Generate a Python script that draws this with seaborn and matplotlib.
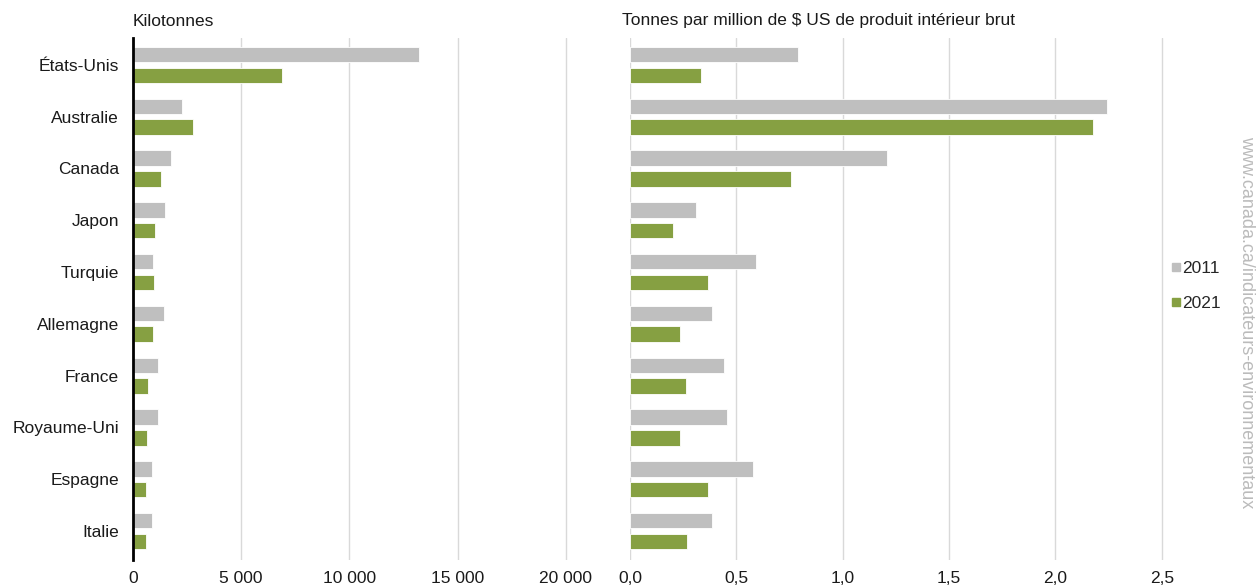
import matplotlib
matplotlib.use("Agg")
import matplotlib.pyplot as plt
import seaborn as sns
import pandas as pd
from matplotlib.ticker import FuncFormatter
from matplotlib.lines import Line2D

pays = ["États-Unis", "Australie", "Canada", "Japon", "Turquie", "Allemagne",
        "France", "Royaume-Uni", "Espagne", "Italie"]
annees = ["2011", "2021"]
kt_2011 = [13200, 2280, 1770, 1500, 940, 1410, 1160, 1160, 900, 880]
kt_2021 = [6900, 2790, 1280, 1030, 980, 940, 710, 660, 580, 580]
int_2011 = [0.79, 2.24, 1.21, 0.31, 0.59, 0.385, 0.44, 0.457, 0.577, 0.385]
int_2021 = [0.334, 2.178, 0.759, 0.202, 0.368, 0.235, 0.261, 0.235, 0.368, 0.269]
xticks_left = [0, 5000, 10000, 15000, 20000]
xticks_right = [0.0, 0.5, 1.0, 1.5, 2.0, 2.5]

GRAY = "#BFBFBF"
GREEN = "#86A042"
FS = 12.5

sns.set_theme(style="white")
plt.rcParams["font.family"] = ["Liberation Sans", "DejaVu Sans"]

df_kt = pd.DataFrame({"pays": pays * 2, "annee": [annees[0]] * 10 + [annees[1]] * 10,
                      "val": kt_2011 + kt_2021})
df_int = pd.DataFrame({"pays": pays * 2, "annee": [annees[0]] * 10 + [annees[1]] * 10,
                       "val": int_2011 + int_2021})

fig = plt.figure(figsize=(12.58, 5.86), dpi=100)
ax1 = fig.add_axes([133 / 1258, 26 / 586, (609 - 133) / 1258, 522 / 586])
ax2 = fig.add_axes([630 / 1258, 26 / 586, (1215 - 630) / 1258, 522 / 586])

palette = {annees[0]: GRAY, annees[1]: GREEN}
for ax, df in ((ax1, df_kt), (ax2, df_int)):
    sns.barplot(data=df, x="val", y="pays", hue="annee", order=pays, hue_order=annees,
                palette=palette, orient="h", width=0.8, gap=0.25, ax=ax,
                legend=False, saturation=1, edgecolor="white", linewidth=0.6, zorder=3)
    ax.set_ylim(len(pays) - 0.44, -0.52)
    ax.set_xlabel("")
    ax.set_ylabel("")
    for s in ax.spines.values():
        s.set_visible(False)
    ax.grid(axis="x", color="#D9D9D9", linewidth=1, zorder=0)
    ax.grid(axis="y", visible=False)
    ax.tick_params(axis="both", length=0, labelsize=FS, colors="#1a1a1a")

ax1.set_xlim(0, 22000)
ax1.set_xticks(xticks_left)
ax1.xaxis.set_major_formatter(FuncFormatter(lambda v, p: f"{int(v):,}".replace(",", " ")))
ax1.spines["left"].set_visible(True)
ax1.spines["left"].set_color("black")
ax1.spines["left"].set_linewidth(2)
ax1.spines["left"].set_zorder(6)
ax1.tick_params(axis="y", pad=10)
ax1.tick_params(axis="x", pad=8)

ax2.set_xlim(0, 2.75)
ax2.set_xticks(xticks_right)
ax2.xaxis.set_major_formatter(FuncFormatter(lambda v, p: f"{v:.1f}".replace(".", ",")))
ax2.set_yticklabels([])
ax2.tick_params(axis="x", pad=8)

fig.text(133 / 1258, 1 - 21 / 586, "Kilotonnes", fontsize=FS, va="center", ha="left",
         color="#1a1a1a")
fig.text(622 / 1258, 1 - 21 / 586, "Tonnes par million de $ US de produit intérieur brut",
         fontsize=FS, va="center", ha="left", color="#1a1a1a")

handles = [Line2D([], [], marker="s", linestyle="", markersize=5.5, color=GRAY),
           Line2D([], [], marker="s", linestyle="", markersize=5.5, color=GREEN)]
fig.legend(handles, annees, loc="center left", bbox_to_anchor=(1172 / 1258, 1 - 286 / 586),
           frameon=False, fontsize=FS, handletextpad=0.1, labelspacing=1.15,
           handlelength=0.5, borderpad=0, borderaxespad=0)

fig.text(1247 / 1258, 1 - 322 / 586, "www.canada.ca/indicateurs-environnementaux",
         rotation=-90, fontsize=13, color="#BBBBBB", ha="center", va="center")

fig.savefig("out.png", dpi=100, facecolor="white")
